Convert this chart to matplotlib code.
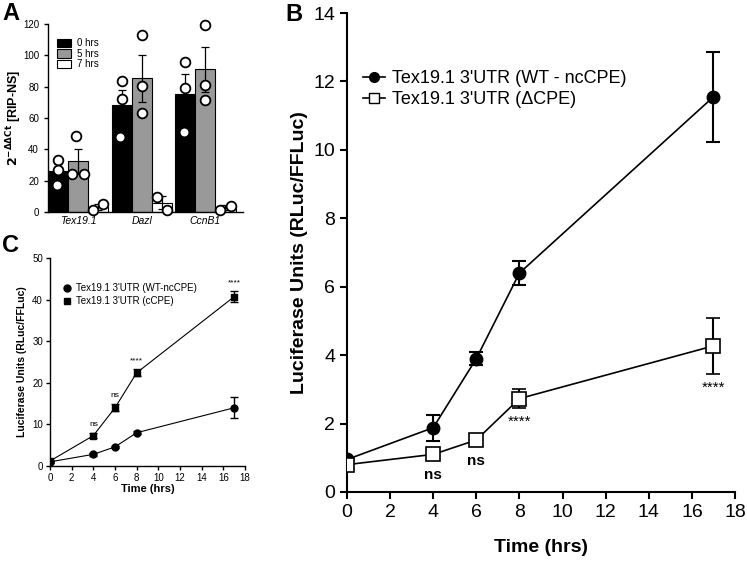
import numpy as np
import matplotlib
matplotlib.use('Agg')
import matplotlib.pyplot as plt
from matplotlib.lines import Line2D
from matplotlib.patches import Patch

plt.rcParams['font.family'] = ['Liberation Sans', 'DejaVu Sans']


# Data
# ****
# Panel A: RIP-qPCR
genes = ['Tex19.1', 'Dazl', 'CcnB1']
timepoints = ['0 hrs', '5 hrs', '7 hrs']
bar_means = [[26, 68, 75.5],       # 0 hrs
             [32.5, 85.5, 91],     # 5 hrs
             [3.2, 6, 2.7]]        # 7 hrs
bar_sems = [[4.5, 10, 12.5],
            [8, 15, 14.5],
            [1.8, 4, 1.5]]
dots = [[[33.5, 27, 17.5], [83.5, 72, 48], [95.5, 79, 51]],
        [[48.5, 24.5, 24.5], [113, 80.5, 63], [119.5, 81, 71.5]],
        [[1.5, 5], [9.5, 1.5], [1.5, 4]]]

# Panel B: WT vs deltaCPE reporter
time_b = [0, 4, 6, 8, 17]
wt_b = [0.95, 1.88, 3.9, 6.4, 11.55]
wt_b_err = [0.05, 0.38, 0.2, 0.35, 1.32]
dcpe_b = [0.8, 1.1, 1.52, 2.73, 4.27]
dcpe_b_err = [0.05, 0.05, 0.05, 0.27, 0.83]
sig_b = ['', 'ns', 'ns', '****', '****']

# Panel C: WT vs cCPE reporter
time_c = [0, 4, 6, 8, 17]
wt_c = [1, 2.8, 4.6, 8, 14]
wt_c_err = [0.2, 0.3, 0.3, 0.4, 2.5]
ccpe_c = [1.2, 7.3, 14, 22.4, 40.7]
ccpe_c_err = [0.2, 0.6, 0.8, 0.8, 1.3]
sig_c = ['', 'ns', 'ns', '****', '****']


W, H = 747, 562
fig = plt.figure(figsize=(W / 100, H / 100), dpi=100)


def px_axes(left, top, right, bottom):
    return fig.add_axes([left / W, 1 - bottom / H, (right - left) / W, (bottom - top) / H])


def clean(ax, lw):
    ax.spines['top'].set_visible(False)
    ax.spines['right'].set_visible(False)
    for s in ('left', 'bottom'):
        ax.spines[s].set_linewidth(lw)
    ax.tick_params(width=lw, direction='out')


# Panel A
# *******
axA = px_axes(48, 24, 243, 212)
clean(axA, 1.0)
bw = 0.315
fills = ['black', '#999999', 'white']
jitter = [[0, 0, -0.02], [-0.03, -0.09, 0.09], [-0.08, 0.08]]
x = np.arange(len(genes))
for i in range(3):
    xi = x + (i - 1) * bw
    axA.bar(xi, bar_means[i], bw, color=fills[i], edgecolor='black', linewidth=0.8, zorder=2)
    axA.errorbar(xi, bar_means[i], yerr=bar_sems[i], fmt='none', ecolor='black',
                 elinewidth=0.9, capsize=3, capthick=0.9, zorder=3)
    for g in range(len(genes)):
        vals = dots[i][g]
        offs = jitter[i]
        if i == 1 and g > 0:
            offs = [0.0, 0.0, 0.0]
        axA.plot(xi[g] + np.array(offs), vals, 'o', ms=7, mfc='white', mec='black',
                 mew=1.3, zorder=4, linestyle='none', clip_on=False)
axA.set_xlim(-0.47, 2.59)
axA.set_ylim(0, 120)
axA.set_yticks(range(0, 121, 20))
axA.set_xticks(x)
axA.set_xticklabels(genes, style='italic', fontsize=7.5)
axA.tick_params(axis='x', length=0, pad=3)
axA.tick_params(axis='y', labelsize=7, length=3)
axA.set_ylabel(r'$\mathbf{2^{-\Delta\Delta Ct}}$ [RIP-NS]', fontsize=9, fontweight='bold')
axA.yaxis.set_label_coords(-0.125, 0.5)
handles = [Patch(facecolor=fills[i], edgecolor='black', linewidth=0.8, label=timepoints[i])
           for i in range(3)]
axA.legend(handles=handles, loc='upper left', bbox_to_anchor=(0.0, 0.97), frameon=False,
           fontsize=7, handlelength=1.5, handleheight=0.9, labelspacing=0.05, handletextpad=0.6)
fig.text(2 / W, 1 - 2 / H, 'A', fontsize=17, fontweight='bold', va='top')


# Panel B
# *******
axB = px_axes(347, 13, 735, 492)
clean(axB, 1.5)
axB.errorbar(time_b, wt_b, yerr=wt_b_err, fmt='-o', color='black', ms=9, mfc='black',
             mec='black', lw=1.2, capsize=5, capthick=1.5, elinewidth=1.5, zorder=3)
axB.errorbar(time_b, dcpe_b, yerr=dcpe_b_err, fmt='-s', color='black', ms=10, mfc='white',
             mec='black', mew=1.2, lw=1.2, capsize=5, capthick=1.5, elinewidth=1.5, zorder=4)
for t, v, e, s in zip(time_b, dcpe_b, dcpe_b_err, sig_b):
    if s == 'ns':
        axB.text(t, v - e - 0.35, s, ha='center', va='top', fontsize=11, fontweight='bold')
    elif s:
        axB.text(t, v - e - 0.2, s, ha='center', va='top', fontsize=11)
axB.set_xlim(0, 18)
axB.set_ylim(0, 14)
axB.set_xticks(range(0, 19, 2))
axB.set_yticks(range(0, 15, 2))
axB.tick_params(labelsize=14, length=5)
axB.set_xlabel('Time (hrs)', fontsize=14, fontweight='bold', labelpad=13)
axB.set_ylabel('Luciferase Units (RLuc/FFLuc)', fontsize=14, fontweight='bold', labelpad=4)
hB = [Line2D([], [], color='black', lw=1.2, marker='o', ms=7, mfc='black', mec='black',
             label="Tex19.1 3'UTR (WT - ncCPE)"),
      Line2D([], [], color='black', lw=1.2, marker='s', ms=7.5, mfc='white', mec='black',
             label="Tex19.1 3'UTR (\u0394CPE)")]
axB.legend(handles=hB, loc='upper left', bbox_to_anchor=(0.0, 0.915), frameon=False,
           fontsize=13, handlelength=1.2, handletextpad=0.4, labelspacing=0.25)
fig.text(285 / W, 1 - 3 / H, 'B', fontsize=17, fontweight='bold', va='top')


# Panel C
# *******
axC = px_axes(50, 258, 245, 466)
clean(axC, 1.0)
axC.errorbar(time_c, wt_c, yerr=wt_c_err, fmt='-o', color='black', ms=5, lw=0.8,
             capsize=3, capthick=1, elinewidth=1, zorder=3)
axC.errorbar(time_c, ccpe_c, yerr=ccpe_c_err, fmt='-s', color='black', ms=5, lw=0.8,
             capsize=3, capthick=1, elinewidth=1, zorder=3)
for t, v, e, s in zip(time_c, ccpe_c, ccpe_c_err, sig_c):
    if s:
        axC.text(t, v + e + 1.2, s, ha='center', va='bottom', fontsize=6)
axC.set_xlim(0, 18)
axC.set_ylim(0, 50)
axC.set_xticks(range(0, 19, 2))
axC.set_yticks(range(0, 51, 10))
axC.tick_params(labelsize=7, length=3, pad=2)
axC.set_xlabel('Time (hrs)', fontsize=8, fontweight='bold', labelpad=1)
axC.set_ylabel('Luciferase Units (RLuc/FFLuc)', fontsize=7.5, fontweight='bold')
axC.yaxis.set_label_coords(-0.118, 0.5)
hC = [Line2D([], [], color='black', lw=0, marker='o', ms=5, label="Tex19.1 3'UTR (WT-ncCPE)"),
      Line2D([], [], color='black', lw=0, marker='s', ms=5, label="Tex19.1 3'UTR (cCPE)")]
axC.legend(handles=hC, loc='upper left', bbox_to_anchor=(0.02, 0.92), frameon=False,
           fontsize=7, handlelength=0.8, handletextpad=0.6, labelspacing=0.3)
fig.text(2 / W, 1 - 234 / H, 'C', fontsize=17, fontweight='bold', va='top')

fig.savefig('out.png', dpi=100)
